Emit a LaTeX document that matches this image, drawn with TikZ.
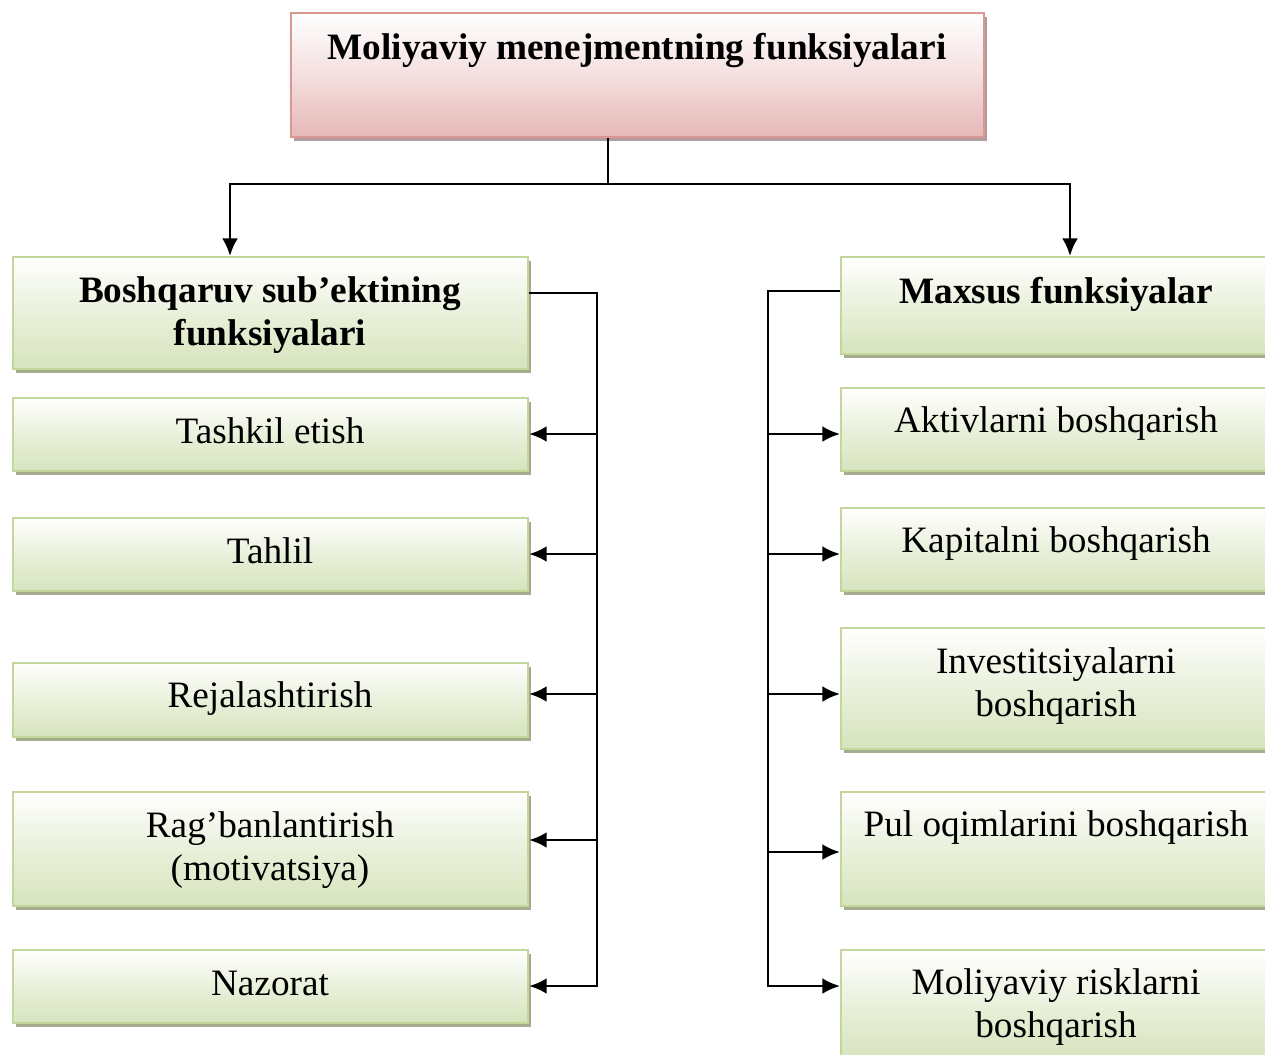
\documentclass[tikz,border=0pt]{standalone}
\usepackage{fontspec}
\setmainfont{Liberation Serif}
\usetikzlibrary{arrows.meta,shadows}
\definecolor{pinkfill}{HTML}{E6B8B7}
\definecolor{pinkline}{HTML}{D99694}
\definecolor{pinkshadow}{HTML}{B09C9C}
\definecolor{greenfill}{HTML}{D7E4BD}
\definecolor{greenline}{HTML}{C3D69B}
\definecolor{greenshadow}{HTML}{A5AD90}
\tikzset{
  x=0.02cm, y=-0.02cm,
  titlebox/.style={rectangle, draw=pinkline, line width=1.2pt, inner sep=0pt, anchor=north west,
    top color=white, bottom color=pinkfill, middle color=pinkfill!45,
    drop shadow={shadow xshift=0.06cm, shadow yshift=-0.07cm, fill=pinkshadow, opacity=1}},
  funcbox/.style={rectangle, draw=greenline, line width=1.2pt, inner sep=0pt, anchor=north west,
    top color=white, bottom color=greenfill, middle color=greenfill!55,
    drop shadow={shadow xshift=0.06cm, shadow yshift=-0.08cm, fill=greenshadow, opacity=1}},
  boxtext/.style={anchor=base, inner sep=0pt, align=center, font=\fontsize{21.2}{24.4}\selectfont},
  boldtext/.style={boxtext, font=\fontsize{21.2}{24.4}\selectfont\bfseries},
  link/.style={line width=1.5pt},
  arrowlink/.style={line width=1.5pt, -{Latex[length=10pt,width=9pt]}},
}
\newcommand{\funcnode}[5]{% name, x, y, width, height
  \node[funcbox, minimum width=#4*0.02cm, minimum height=#5*0.02cm] (#1) at (#2,#3) {};}
\begin{document}
\begin{tikzpicture}
\useasboundingbox (0,0) rectangle (1265,1055);
\begin{scope}
\clip (0,0) rectangle (1265,1055);

% main heading
\node[titlebox, minimum width=693*0.02cm, minimum height=124*0.02cm] (top) at (290,12) {};
\node[boldtext] (toptext) at (637,59) {Moliyaviy menejmentning funksiyalari};

% left column: management functions
\funcnode{L0}{12}{256}{515}{112}
\funcnode{L1}{12}{397}{515}{73}
\funcnode{L2}{12}{517}{515}{73}
\funcnode{L3}{12}{662}{515}{74}
\funcnode{L4}{12}{791}{515}{114}
\funcnode{L5}{12}{949}{515}{73}

% right column: special functions
\funcnode{R0}{840}{256}{432}{97}
\funcnode{R1}{840}{387}{432}{83}
\funcnode{R2}{840}{507}{432}{83}
\funcnode{R3}{840}{627}{432}{121}
\funcnode{R4}{840}{791}{432}{114}
\funcnode{R5}{840}{949}{432}{110}

% labels (multi-line labels sit on the baseline of their last line)
\node[boldtext] (L0t) at (270,345) {Boshqaruv sub’ektining\\funksiyalari};
\node[boxtext] (L1t) at (270,443) {Tashkil etish};
\node[boxtext] (L2t) at (270,563) {Tahlil};
\node[boxtext] (L3t) at (270,707) {Rejalashtirish};
\node[boxtext] (L4t) at (270,880) {Rag’banlantirish\\(motivatsiya)};
\node[boxtext] (L5t) at (270,995) {Nazorat};

\node[boldtext] (R0t) at (1056,303) {Maxsus funksiyalar};
\node[boxtext] (R1t) at (1056,432) {Aktivlarni boshqarish};
\node[boxtext] (R2t) at (1056,552) {Kapitalni boshqarish};
\node[boxtext] (R3t) at (1056,716) {Investitsiyalarni\\boshqarish};
\node[boxtext] (R4t) at (1056,836) {Pul oqimlarini boshqarish};
\node[boxtext] (R5t) at (1056,1037) {Moliyaviy risklarni\\boshqarish};

% split from the heading into the two groups
\coordinate (split) at (608,184);
\draw[line width=0.9pt] (top.south -| split) -- (split);
\draw[arrowlink] (split) -| (L0.north -| 230,0);
\draw[arrowlink] (split) -| (R0.north -| 1070,0);

% left trunk, ending in the arrow to the last box
\coordinate (ltop) at (597,293);
\coordinate (lbot) at (597,986);
\draw[arrowlink] (L0.east |- ltop) -- (ltop) -- (lbot) -- (L5.east |- lbot);
\draw[arrowlink] (597,434) -- (L1.east |- 0,434);
\draw[arrowlink] (597,554) -- (L2.east |- 0,554);
\draw[arrowlink] (597,694) -- (L3.east |- 0,694);
\draw[arrowlink] (597,840) -- (L4.east |- 0,840);

% right trunk, ending in the arrow to the last box
\coordinate (rtop) at (768,291);
\coordinate (rbot) at (768,986);
\draw[arrowlink] (R0.west |- rtop) -- (rtop) -- (rbot) -- (R5.west |- rbot);
\draw[arrowlink] (768,434) -- (R1.west |- 0,434);
\draw[arrowlink] (768,554) -- (R2.west |- 0,554);
\draw[arrowlink] (768,694) -- (R3.west |- 0,694);
\draw[arrowlink] (768,852) -- (R4.west |- 0,852);
\end{scope}
\end{tikzpicture}
\end{document}
